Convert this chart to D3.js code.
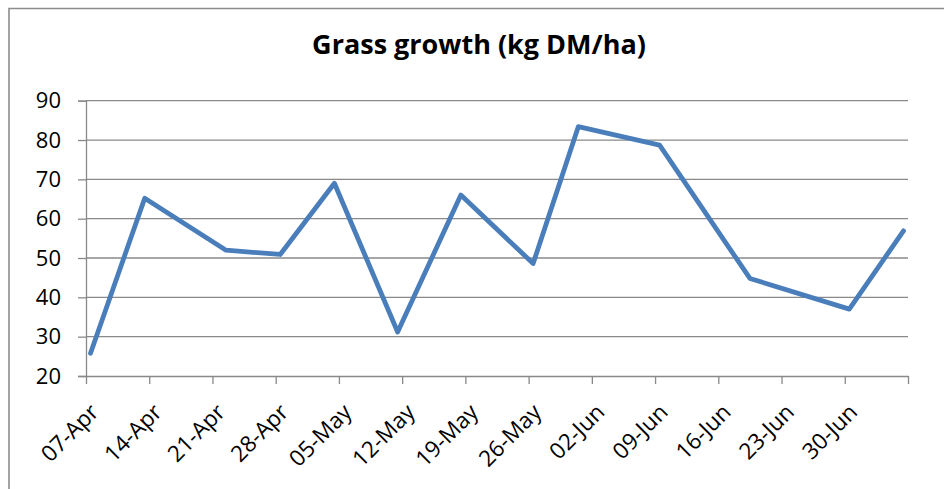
<!DOCTYPE html>
<html>
<head>
<meta charset="utf-8">
<script src="https://cdn.jsdelivr.net/npm/d3@7"></script>
<style>
  body { margin: 0; background: #fff; }
  svg { display: block; font-family: 'Open Sans', sans-serif; }
</style>
</head>
<body>
<div id="chart"></div>
<script>
// measurement dates and growth readings
const dates = ['2013-04-07', '2013-04-13', '2013-04-22', '2013-04-28', '2013-05-04', '2013-05-11',
  '2013-05-18', '2013-05-26', '2013-05-31', '2013-06-09', '2013-06-19', '2013-06-30', '2013-07-06'];
const growth = [25.8, 65.2, 52.0, 50.9, 69.0, 31.2, 66.0, 48.6, 83.4, 78.7, 44.8, 37.0, 56.9];

// weekly axis ticks, last one has no label
const tickDates = ['2013-04-07', '2013-04-14', '2013-04-21', '2013-04-28', '2013-05-05', '2013-05-12',
  '2013-05-19', '2013-05-26', '2013-06-02', '2013-06-09', '2013-06-16', '2013-06-23', '2013-06-30', '2013-07-07'];
const tickLabels = ['07-Apr', '14-Apr', '21-Apr', '28-Apr', '05-May', '12-May', '19-May',
  '26-May', '02-Jun', '09-Jun', '16-Jun', '23-Jun', '30-Jun', ''];
const yTicks = [20, 30, 40, 50, 60, 70, 80, 90];

const width = 944;
const height = 489;
const plot = { left: 86, right: 908, top: 100.7, bottom: 376 };
const gridColor = '#898989';

const parse = d3.timeParse('%Y-%m-%d');
const data = dates.map((d, i) => ({ date: parse(d), value: growth[i] }));
const ticks = tickDates.map(parse);

const svg = d3.select('#chart')
  .append('svg')
    .attr('width', width)
    .attr('height', height);

// outer chart frame (runs off the right and bottom edge)
svg.append('path')
  .attr('d', 'M9,' + height + 'V8.5H' + width)
  .attr('fill', 'none')
  .attr('stroke', '#8c8c8c')
  .attr('stroke-width', 1.6);

svg.append('text')
  .attr('x', 479)
  .attr('y', 54)
  .attr('text-anchor', 'middle')
  .attr('font-size', 27)
  .attr('font-weight', 'bold')
  .attr('fill', '#000')
  .text('Grass growth (kg DM/ha)');

const x = d3.scaleTime()
  .domain([ticks[0], ticks[ticks.length - 1]])
  .range([plot.left, plot.right]);

const y = d3.scaleLinear()
  .domain([20, 90])
  .range([plot.bottom, plot.top]);

// horizontal gridlines
svg.append('g')
  .selectAll('line')
  .data(yTicks.slice(1))
  .join('line')
    .attr('x1', plot.left)
    .attr('x2', plot.right)
    .attr('y1', (d) => y(d))
    .attr('y2', (d) => y(d))
    .attr('stroke', gridColor)
    .attr('stroke-width', 1.3);

// Y axis
const yAxis = svg.append('g')
  .attr('transform', 'translate(' + plot.left + ',0)')
  .call(d3.axisLeft(y).tickValues(yTicks).tickSize(8).tickPadding(17).tickFormat(d3.format('d')));
yAxis.select('.domain').attr('stroke', gridColor).attr('stroke-width', 1.3);
yAxis.selectAll('.tick line').attr('stroke', gridColor).attr('stroke-width', 1.3);
yAxis.selectAll('.tick text')
  .attr('font-size', 22)
  .attr('font-family', "'Open Sans', sans-serif")
  .attr('fill', '#000');

// X axis
const xAxis = svg.append('g')
  .attr('transform', 'translate(0,' + plot.bottom + ')')
  .call(d3.axisBottom(x).tickValues(ticks).tickSize(8).tickSizeOuter(0).tickFormat((d, i) => tickLabels[i]));
xAxis.select('.domain').attr('stroke', gridColor).attr('stroke-width', 1.3);
xAxis.selectAll('.tick line').attr('stroke', gridColor).attr('stroke-width', 1.3);
xAxis.selectAll('.tick text')
  .attr('font-size', 22.5)
  .attr('font-family', "'Open Sans', sans-serif")
  .attr('fill', '#000')
  .attr('text-anchor', 'end')
  .attr('y', 0)
  .attr('dy', '0.35em')
  .attr('transform', 'translate(8,32) rotate(-45)');

// the line, points sit in the middle of their day
svg.append('path')
  .datum(data)
  .attr('fill', 'none')
  .attr('stroke', '#4a7ebb')
  .attr('stroke-width', 4.8)
  .attr('stroke-linejoin', 'round')
  .attr('stroke-linecap', 'round')
  .attr('d', d3.line()
    .x((d) => x(d3.timeHour.offset(d.date, 12)))
    .y((d) => y(d.value))
  );
</script>
</body>
</html>
